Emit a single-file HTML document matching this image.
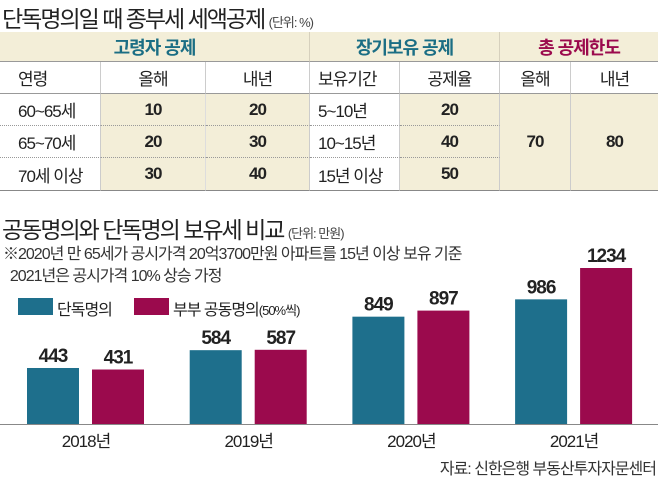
<!DOCTYPE html>
<html><head><meta charset="utf-8">
<style>
body{margin:0;width:658px;height:477px;background:#fff;overflow:hidden;font-family:"Liberation Sans","Noto Sans CJK KR",sans-serif;color:#222;}
.a{position:absolute;white-space:nowrap;}
.c{position:absolute;display:flex;align-items:center;justify-content:center;box-sizing:border-box;font-size:17px;letter-spacing:-1px;}
.b{font-weight:bold;}
.beige{background:#f3eed8;}
</style></head><body>
<div class="a" style="left:2px;top:0px;font-size:23px;letter-spacing:-2px;">단독명의일 때 종부세 세액공제 <span style="font-size:13px;color:#444;letter-spacing:-1px">(단위: %)</span></div>

<div style="position:absolute;left:0;top:32px;width:658px;height:160px;">
<div class="c beige b" style="left:0;top:0;width:310px;height:30px;color:#1b6e84;font-size:18px;border-right:1px solid #d6d0bd;border-bottom:1px solid #999">고령자 공제</div>
<div class="c beige b" style="left:310px;top:0;width:190px;height:30px;color:#1b6e84;font-size:18px;border-right:1px solid #d6d0bd;border-bottom:1px solid #999">장기보유 공제</div>
<div class="c beige b" style="left:500px;top:0;width:158px;height:30px;color:#9b0a4d;font-size:18px;border-bottom:1px solid #999">총 공제한도</div>

<div class="c" style="left:0;top:30px;width:101px;height:32px;justify-content:flex-start;padding-left:18px;border-right:1px solid #ccc;border-bottom:1px solid #999">연령</div>
<div class="c" style="left:101px;top:30px;width:105px;height:32px;border-right:1px solid #ccc;border-bottom:1px solid #999">올해</div>
<div class="c" style="left:206px;top:30px;width:104px;height:32px;border-right:1px solid #ccc;border-bottom:1px solid #999">내년</div>
<div class="c" style="left:310px;top:30px;width:90px;height:32px;justify-content:flex-start;padding-left:8px;border-right:1px solid #ccc;border-bottom:1px solid #999">보유기간</div>
<div class="c" style="left:400px;top:30px;width:100px;height:32px;border-right:1px solid #ccc;border-bottom:1px solid #999">공제율</div>
<div class="c" style="left:500px;top:30px;width:71px;height:32px;border-right:1px solid #ccc;border-bottom:1px solid #999">올해</div>
<div class="c" style="left:571px;top:30px;width:87px;height:32px;border-bottom:1px solid #999">내년</div>

<div class="c" style="left:0;top:62px;width:101px;height:32px;justify-content:flex-start;padding-left:18px;border-right:1px solid #ccc;border-bottom:1px dotted #999">60~65세</div>
<div class="c beige b" style="left:101px;top:62px;width:105px;height:32px;border-right:1px solid #ddd;border-bottom:1px dotted #999">10</div>
<div class="c beige b" style="left:206px;top:62px;width:104px;height:32px;border-right:1px solid #ccc;border-bottom:1px dotted #999">20</div>
<div class="c" style="left:310px;top:62px;width:90px;height:32px;justify-content:flex-start;padding-left:8px;border-right:1px solid #ccc;border-bottom:1px dotted #999">5~10년</div>
<div class="c beige b" style="left:400px;top:62px;width:100px;height:32px;border-right:1px solid #ccc;border-bottom:1px dotted #999">20</div>

<div class="c" style="left:0;top:94px;width:101px;height:32px;justify-content:flex-start;padding-left:18px;border-right:1px solid #ccc;border-bottom:1px dotted #999">65~70세</div>
<div class="c beige b" style="left:101px;top:94px;width:105px;height:32px;border-right:1px solid #ddd;border-bottom:1px dotted #999">20</div>
<div class="c beige b" style="left:206px;top:94px;width:104px;height:32px;border-right:1px solid #ccc;border-bottom:1px dotted #999">30</div>
<div class="c" style="left:310px;top:94px;width:90px;height:32px;justify-content:flex-start;padding-left:8px;border-right:1px solid #ccc;border-bottom:1px dotted #999">10~15년</div>
<div class="c beige b" style="left:400px;top:94px;width:100px;height:32px;border-right:1px solid #ccc;border-bottom:1px dotted #999">40</div>

<div class="c" style="left:0;top:126px;width:101px;height:33px;justify-content:flex-start;padding-left:18px;border-right:1px solid #ccc;border-bottom:1px solid #888">70세 이상</div>
<div class="c beige b" style="left:101px;top:126px;width:105px;height:33px;border-right:1px solid #ddd;border-bottom:1px solid #888">30</div>
<div class="c beige b" style="left:206px;top:126px;width:104px;height:33px;border-right:1px solid #ccc;border-bottom:1px solid #888">40</div>
<div class="c" style="left:310px;top:126px;width:90px;height:33px;justify-content:flex-start;padding-left:8px;border-right:1px solid #ccc;border-bottom:1px solid #888">15년 이상</div>
<div class="c beige b" style="left:400px;top:126px;width:100px;height:33px;border-right:1px solid #ccc;border-bottom:1px solid #888">50</div>

<div class="c beige b" style="left:500px;top:62px;width:71px;height:97px;border-right:1px solid #ccc;border-bottom:1px solid #888">70</div>
<div class="c beige b" style="left:571px;top:62px;width:87px;height:97px;border-bottom:1px solid #888">80</div>
</div>

<div class="a" style="left:2px;top:211px;font-size:23px;letter-spacing:-2px;">공동명의와 단독명의 보유세 비교 <span style="font-size:13px;color:#444;letter-spacing:-1px">(단위: 만원)</span></div>
<div class="a" style="left:3px;top:244px;font-size:16px;letter-spacing:-1px;line-height:22px;color:#333">※2020년 만 65세가 공시가격 20억3700만원 아파트를 15년 이상 보유 기준<br>&nbsp;&nbsp;2021년은 공시가격 10% 상승 가정</div>

<div class="a" style="left:18px;top:298px;width:35px;height:17px;background:#1e6f8c"></div>
<div class="a" style="left:57px;top:296px;font-size:16px;letter-spacing:-1px">단독명의</div>
<div class="a" style="left:134px;top:298px;width:35px;height:17px;background:#9b0a4d"></div>
<div class="a" style="left:173px;top:296px;font-size:16px;letter-spacing:-1px">부부 공동명의<span style="font-size:13px">(50%씩)</span></div>

<svg id="chart" width="658" height="477" style="position:absolute;left:0;top:0"></svg>

<div class="a" style="right:2px;top:455px;font-size:16px;letter-spacing:-1px;color:#333">자료: 신한은행 부동산투자자문센터</div>

<script>
const categories=["2018년","2019년","2020년","2021년"];
const singleValues=[443,584,849,986];
const jointValues=[431,587,897,1234];
const NS="http://www.w3.org/2000/svg";
const svg=document.getElementById('chart');
const baseY=424, scaleY=156/1234;
const groupX=i=>27+i*162.7;
const yPos=v=>baseY-v*scaleY;
function mk(t,a){const e=document.createElementNS(NS,t);for(const k in a)e.setAttribute(k,a[k]);svg.appendChild(e);return e;}
const ax=mk('line',{x1:0,x2:658,y1:baseY+0.5,y2:baseY+0.5,stroke:'#888','stroke-width':1});


categories.forEach((c,i)=>{
  [[singleValues[i],'#1e6f8c',0,'single'],[jointValues[i],'#9b0a4d',65,'joint']].forEach(([v,col,off,nm])=>{
    const x=groupX(i)+off,w=52;
    const r=mk('rect',{x:x,y:yPos(v),width:w,height:baseY-yPos(v),fill:col});
    
    
    const t=mk('text',{x:x+w/2,y:yPos(v)-6,'text-anchor':'middle','font-size':19,'font-weight':'bold',fill:'#222','letter-spacing':-1});
    t.textContent=v;
    
    
  });
  const l=mk('text',{x:groupX(i)+59,y:447,'text-anchor':'middle','font-size':17,fill:'#222','letter-spacing':-1,'font-family':'"Liberation Sans","Noto Sans CJK KR",sans-serif'});
  l.textContent=c;
  
  
});
</script>
</body></html>
